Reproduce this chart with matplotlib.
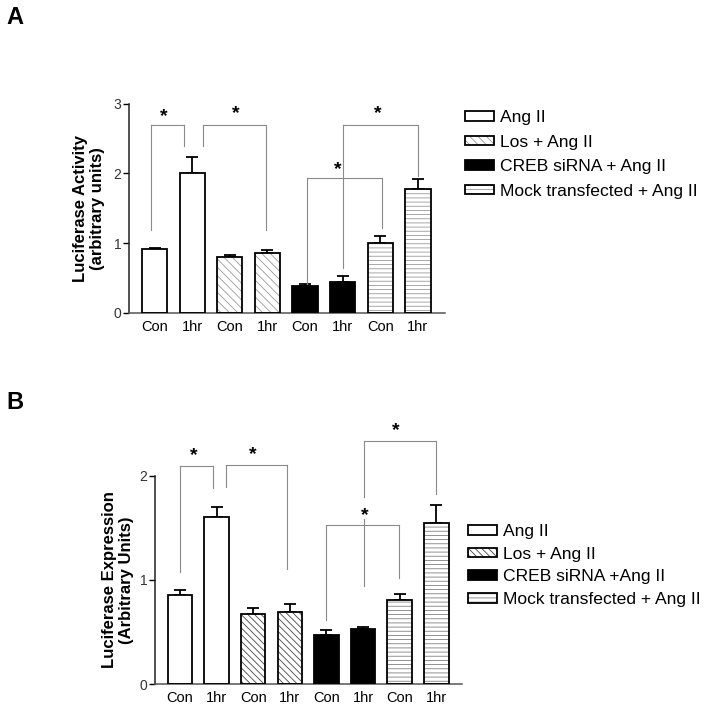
import matplotlib
matplotlib.use("Agg")
import matplotlib.pyplot as plt
from matplotlib.patches import Patch
from matplotlib.legend_handler import HandlerTuple

plt.rcParams['font.family'] = ['Liberation Sans', 'DejaVu Sans']
plt.rcParams['hatch.linewidth'] = 0.6

# Données des deux panneaux
labels = ["Con", "1hr", "Con", "1hr", "Con", "1hr", "Con", "1hr"]
groups = ["Ang II", "Los + Ang II", "CREB siRNA + Ang II", "Mock transfected + Ang II"]
groups_b = ["Ang II", "Los + Ang II", "CREB siRNA +Ang II", "Mock transfected + Ang II"]

act_mean = [0.92, 2.01, 0.80, 0.86, 0.39, 0.44, 1.00, 1.77]
act_sem = [0.01, 0.22, 0.03, 0.04, 0.02, 0.09, 0.11, 0.15]

expr_mean = [0.85, 1.60, 0.675, 0.69, 0.47, 0.525, 0.81, 1.55]
expr_sem = [0.05, 0.10, 0.055, 0.08, 0.045, 0.02, 0.05, 0.17]

# crochets de significativité : (x gauche, x droite, y haut, y bas gauche, y bas droite, x étoile, y étoile)
brackets_a = [(-0.10, 0.79, 2.69, 1.19, 2.39, 0.25, 2.82),
              (1.30, 2.97, 2.69, 2.39, 1.19, 2.15, 2.85),
              (4.06, 6.05, 1.93, 0.42, 1.22, 4.87, 2.06),
              (5.00, 6.99, 2.69, 0.64, 1.96, 5.94, 2.85)]
brackets_b = [(0.01, 0.89, 2.09, 1.08, 1.88, 0.39, 2.19),
              (1.26, 2.92, 2.10, 1.89, 1.10, 1.99, 2.20),
              (4.00, 5.97, 1.53, 0.61, 1.02, 5.04, 1.62),
              (5.02, 6.99, 2.33, 0.94, 1.82, 5.88, 2.43)]
gap_b = (1.58, 1.80)  # trou dans la jambe gauche du dernier crochet (sous l'étoile)


def draw_panel(ax, means, sems, brackets, styles, ymax, names, leg_anchor, leg_spacing):
    x = list(range(len(means)))
    for i in x:
        face, hatch, hcol = styles[i // 2]
        ax.bar(i, means[i], width=0.67, color=face, edgecolor=hcol, hatch=hatch, linewidth=0, zorder=2)
        ax.bar(i, means[i], width=0.67, fill=False, edgecolor='black', linewidth=1.3, zorder=3)
    ax.errorbar(x, means, yerr=[[0] * len(sems), sems], fmt='none', ecolor='black',
                elinewidth=1.3, capsize=4.5, capthick=1.3, zorder=1)

    for k, (xl, xr, yt, ybl, ybr, sx, sy) in enumerate(brackets):
        kw = dict(color='#8a8a8a', linewidth=0.8, clip_on=False, zorder=4)
        ax.plot([xl, xr], [yt, yt], **kw)
        ax.plot([xr, xr], [yt, ybr], **kw)
        if brackets is brackets_b and k == 3:
            ax.plot([xl, xl], [yt, gap_b[1]], **kw)
            ax.plot([xl, xl], [gap_b[0], ybl], **kw)
        else:
            ax.plot([xl, xl], [yt, ybl], **kw)
        ax.text(sx, sy, "*", ha='center', va='center', fontsize=14, fontweight='bold', clip_on=False)

    ax.set_xlim(-0.68, 7.72)
    ax.set_ylim(0, ymax)
    ax.set_yticks(range(ymax + 1))
    ax.set_xticks(x)
    ax.set_xticklabels(labels, fontsize=10.5)
    ax.tick_params(axis='x', length=0, pad=5)
    ax.tick_params(axis='y', length=4, width=1, labelsize=10, pad=1.5, labelcolor='#333333')
    for s in ['top', 'right']:
        ax.spines[s].set_visible(False)
    ax.spines['left'].set_linewidth(1.1)
    ax.spines['bottom'].set_linewidth(1.1)
    ax.spines['left'].set_color('#222222')
    ax.spines['bottom'].set_color('#555555')

    handles = []
    for face, hatch, hcol in styles:
        handles.append((Patch(facecolor=face, edgecolor=hcol, hatch=hatch, linewidth=0),
                        Patch(fill=False, edgecolor='black', linewidth=1.3)))
    ax.legend(handles, names, handler_map={tuple: HandlerTuple(ndivide=1, pad=0)},
              loc='upper left', bbox_to_anchor=leg_anchor, bbox_transform=ax.figure.transFigure,
              frameon=False, fontsize=12.6, handlelength=1.65, handleheight=0.46,
              handletextpad=0.35, labelspacing=leg_spacing, borderpad=0, borderaxespad=0)


fig = plt.figure(figsize=(7.07, 7.08), dpi=100)

ax_a = fig.add_axes([129 / 707, 1 - 313 / 708, 316 / 707, 209.4 / 708])
style_a = [('white', None, 'black'), ('white', '\\\\\\\\', '#9a9a9a'),
           ('black', None, 'black'), ('white', '----', '#9a9a9a')]
draw_panel(ax_a, act_mean, act_sem, brackets_a, style_a, 3, groups, (465 / 707, 1 - 110 / 708), 0.55)
ax_a.set_ylabel("Luciferase Activity\n(arbitrary units)", fontsize=12, fontweight='bold', labelpad=6)

ax_b = fig.add_axes([155 / 707, 1 - 684 / 708, 307 / 707, 208.3 / 708])
style_b = [('white', None, 'black'), ('white', '\\\\\\\\\\', '#444444'),
           ('black', None, 'black'), ('white', '----', '#808080')]
draw_panel(ax_b, expr_mean, expr_sem, brackets_b, style_b, 2, groups_b, (468 / 707, 1 - 524 / 708), 0.44)
ax_b.set_xlim(-0.68, 7.7)
ax_b.set_ylabel("Luciferase Expression\n(Arbitrary Units)", fontsize=12, fontweight='bold', labelpad=4)

fig.text(6 / 707, 1 - 6 / 708, "A", fontsize=17, fontweight='bold', va='top', ha='left')
fig.text(6 / 707, 1 - 391 / 708, "B", fontsize=17, fontweight='bold', va='top', ha='left')

fig.savefig("out.png", dpi=100)
